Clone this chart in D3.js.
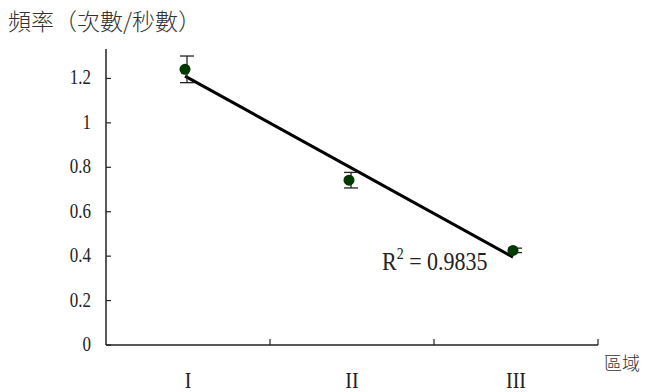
<!DOCTYPE html>
<html>
<head>
<meta charset="utf-8">
<script src="https://cdn.jsdelivr.net/npm/d3@7"></script>
<style>
  html, body { margin: 0; padding: 0; background: #fff; }
  svg { display: block; }
  .serif { font-family: "Liberation Serif", "DejaVu Serif", serif; fill: #222; }
  .cjk { font-family: "Noto Sans CJK TC", "Noto Sans CJK SC", sans-serif; fill: #333; font-weight: 300; }
</style>
</head>
<body>
<script>
// Region categories and measured frequency (counts per second)
const regions = ["I", "II", "III"];
const frequency = [1.241, 0.742, 0.426];
const errorSize = [0.06, 0.035, 0.01];
const yTicks = [0, 0.2, 0.4, 0.6, 0.8, 1, 1.2];
const yTickLabels = ["0", "0.2", "0.4", "0.6", "0.8", "1", "1.2"];
const yTitle = "頻率（次數/秒數）";
const xTitle = "區域";

const W = 645, H = 392;
const margin = { left: 106, right: 47, top: 49, bottom: 47 };

const svg = d3.select("body").append("svg")
  .attr("width", W).attr("height", H);

const x = d3.scaleBand()
  .domain(regions)
  .range([margin.left, W - margin.right]);

const y = d3.scaleLinear()
  .domain([0, 1.3326])
  .range([H - margin.bottom, margin.top]);

const axisColor = "#222";
const stretch = 1.18; // tall serif glyphs

// Y axis line and inward ticks
svg.append("line")
  .attr("x1", margin.left).attr("x2", margin.left)
  .attr("y1", y(y.domain()[1])).attr("y2", y(0))
  .attr("stroke", axisColor).attr("stroke-width", 1.5);

svg.selectAll(".ytick").data(yTicks).join("line")
  .attr("x1", margin.left).attr("x2", margin.left + 5)
  .attr("y1", d => y(d)).attr("y2", d => y(d))
  .attr("stroke", axisColor).attr("stroke-width", 1.2);

svg.selectAll(".ylab").data(yTicks).join("g")
  .attr("transform", d => `translate(${margin.left - 15},${y(d) + 6}) scale(1,${stretch})`)
  .append("text")
  .attr("class", "serif")
  .attr("text-anchor", "end")
  .attr("font-size", 17)
  .text((d, i) => yTickLabels[i]);

// X axis line with band-boundary ticks
svg.append("line")
  .attr("x1", margin.left).attr("x2", W - margin.right)
  .attr("y1", y(0)).attr("y2", y(0))
  .attr("stroke", axisColor).attr("stroke-width", 1.5);

const bounds = regions.map(r => x(r)).concat([x.range()[1]]).slice(1);
svg.selectAll(".xtick").data(bounds).join("line")
  .attr("x1", d => d).attr("x2", d => d)
  .attr("y1", y(0)).attr("y2", y(0) - 6)
  .attr("stroke", axisColor).attr("stroke-width", 1.2);

svg.selectAll(".xlab").data(regions).join("g")
  .attr("transform", d => `translate(${x(d) + x.bandwidth() / 2},${H - 4}) scale(1,${stretch})`)
  .append("text")
  .attr("class", "serif")
  .attr("text-anchor", "middle")
  .attr("font-size", 20)
  .text(d => d);

// Axis titles
svg.append("text")
  .attr("class", "cjk")
  .attr("x", 8).attr("y", 30)
  .attr("font-size", 23)
  .text(yTitle);

svg.append("text")
  .attr("class", "cjk")
  .attr("x", 604).attr("y", 370)
  .attr("font-size", 18)
  .text(xTitle);

// Linear trend line (least squares over category index 1..n)
const xs = frequency.map((d, i) => i + 1);
const mx = d3.mean(xs), my = d3.mean(frequency);
const slope = d3.sum(xs, (v, i) => (v - mx) * (frequency[i] - my)) / d3.sum(xs, v => (v - mx) ** 2);
const intercept = my - slope * mx;
const fitted = xs.map(v => intercept + slope * v);
const ssRes = d3.sum(frequency, (v, i) => (v - fitted[i]) ** 2);
const ssTot = d3.sum(frequency, v => (v - my) ** 2);
const r2 = 1 - ssRes / ssTot;

const cx = r => x(r) + x.bandwidth() / 2 - 3;

svg.append("line")
  .attr("x1", cx(regions[0])).attr("y1", y(fitted[0]))
  .attr("x2", cx(regions[regions.length - 1])).attr("y2", y(fitted[fitted.length - 1]))
  .attr("stroke", "#000").attr("stroke-width", 3);

// Error bars
const capW = 7;
const eb = svg.selectAll(".eb").data(regions).join("g");
eb.append("line")
  .attr("x1", (d) => cx(d) + 2).attr("x2", (d) => cx(d) + 2)
  .attr("y1", (d, i) => y(frequency[i] + errorSize[i]))
  .attr("y2", (d, i) => y(frequency[i] - errorSize[i]))
  .attr("stroke", "#222").attr("stroke-width", 1.3);
eb.append("line")
  .attr("x1", d => cx(d) + 2 - capW).attr("x2", d => cx(d) + 2 + capW)
  .attr("y1", (d, i) => y(frequency[i] + errorSize[i]))
  .attr("y2", (d, i) => y(frequency[i] + errorSize[i]))
  .attr("stroke", "#222").attr("stroke-width", 1.3);
eb.append("line")
  .attr("x1", d => cx(d) + 2 - capW).attr("x2", d => cx(d) + 2 + capW)
  .attr("y1", (d, i) => y(frequency[i] - errorSize[i]))
  .attr("y2", (d, i) => y(frequency[i] - errorSize[i]))
  .attr("stroke", "#222").attr("stroke-width", 1.3);

// Data points
svg.selectAll(".pt").data(regions).join("circle")
  .attr("cx", d => cx(d))
  .attr("cy", (d, i) => y(frequency[i]))
  .attr("r", 5.5)
  .attr("fill", "#013a01");

// R² annotation
const rg = svg.append("g")
  .attr("transform", `translate(382,270) scale(1,${stretch})`);
const rt = rg.append("text").attr("class", "serif").attr("font-size", 22);
rt.append("tspan").text("R");
rt.append("tspan").attr("dy", -9).attr("font-size", 14).text("2");
rt.append("tspan").attr("dy", 9).text(" = " + r2.toFixed(4));
</script>
</body>
</html>
